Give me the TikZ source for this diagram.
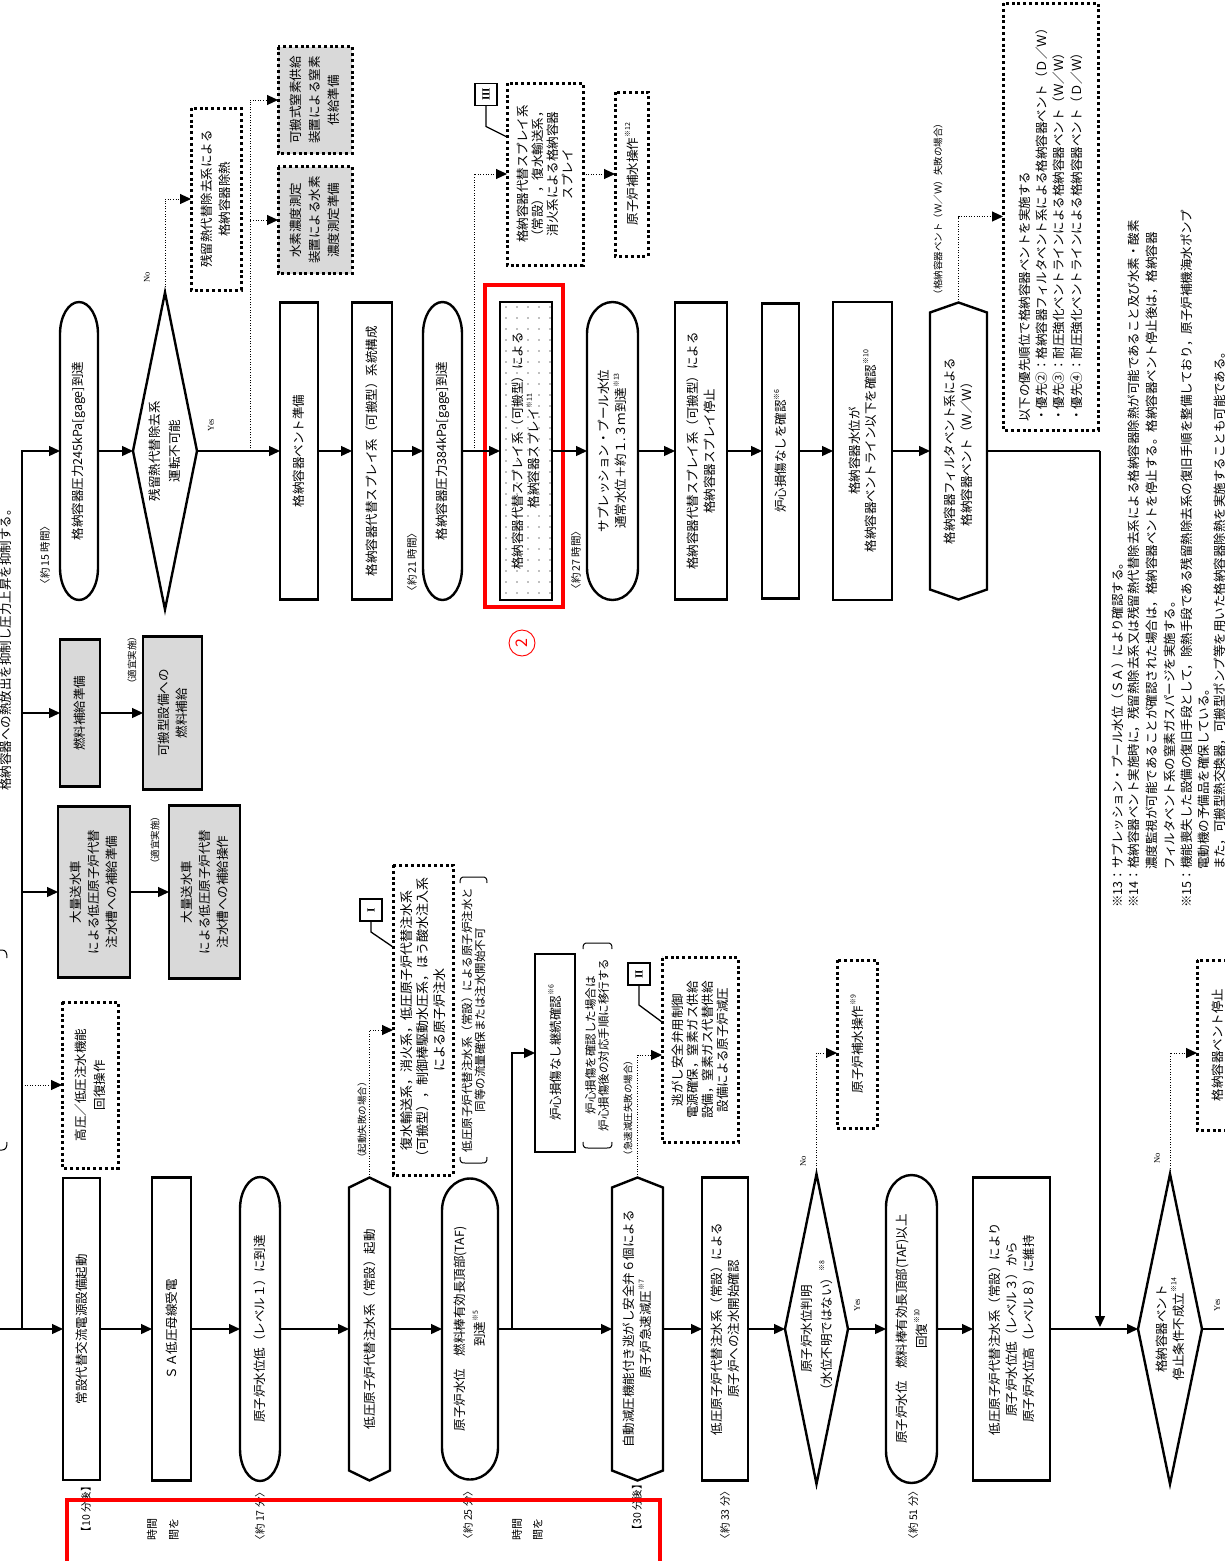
\documentclass[tikz,border=0pt]{standalone}
\usepackage{fontspec}
\setmainfont{Noto Sans CJK JP}
\newfontfamily\serifA{Liberation Serif}
\usetikzlibrary{arrows.meta,patterns.meta}
\definecolor{boxgray}{RGB}{217,217,217}
\newcommand\fsz[2]{\fontsize{#1pt}{#2pt}\selectfont}
\newcommand\fn[1]{\raisebox{0.55em}{\fsz{7}{7}#1}}
\tikzset{
 txt/.style={rotate=90, inner sep=0pt, outer sep=0pt, align=center, font=\fsz{12.5}{17}},
 sbox/.style={txt, draw, line width=2.4pt},
 gbox/.style={sbox, fill=boxgray},
 dbox/.style={txt, draw, line width=3pt, dash pattern=on 3pt off 2.8pt},
 gdbox/.style={dbox, fill=boxgray},
 shp/.style={line width=2.4pt, line join=miter},
 ln/.style={line width=1.3pt},
 arr/.style={ln, -{Triangle[length=11pt,width=10pt]}},
 darr/.style={line width=1pt, dash pattern=on 1pt off 1.6pt, -{Triangle[length=11pt,width=10pt]}},
 lead/.style={line width=1.3pt},
 rlab/.style={txt, draw, line width=1.4pt, minimum width=22pt, minimum height=22pt, font=\serifA\bfseries\fsz{11}{11}},
 smalltxt/.style={txt, font=\fsz{9.5}{11}},
 tlab/.style={txt, font=\fsz{10.5}{12}},
 yn/.style={txt, font=\serifA\fsz{8.5}{9}},
 footline/.style={rotate=90, inner sep=0pt, anchor=west, font=\fsz{12.5}{15}},
 brk/.style={line width=1pt},
}
\newcommand\stadnode[6]{%
 \node[txt, minimum width=#5pt, minimum height=#4pt] (#1) at (#2,#3) {#6};
 \pgfmathsetmacro\Xl{#2-#4/2}\pgfmathsetmacro\Xr{#2+#4/2}%
 \pgfmathsetmacro\Xlk{#2-0.552*#4/2}\pgfmathsetmacro\Xrk{#2+0.552*#4/2}%
 \pgfmathsetmacro\Yt{#3-#5/2}\pgfmathsetmacro\Yb{#3+#5/2}%
 \pgfmathsetmacro\Yti{\Yt+32}\pgfmathsetmacro\Ybi{\Yb-32}%
 \pgfmathsetmacro\Ytk{\Yt+14.3}\pgfmathsetmacro\Ybk{\Yb-14.3}%
 \draw[shp] (\Xl,\Yti) -- (\Xl,\Ybi) .. controls (\Xl,\Ybk) and (\Xlk,\Yb) .. (#2,\Yb) .. controls (\Xrk,\Yb) and (\Xr,\Ybk) .. (\Xr,\Ybi) -- (\Xr,\Yti) .. controls (\Xr,\Ytk) and (\Xrk,\Yt) .. (#2,\Yt) .. controls (\Xlk,\Yt) and (\Xl,\Ytk) .. cycle;}
\newcommand\hexnode[6]{%
 \node[txt, minimum width=#5pt, minimum height=#4pt] (#1) at (#2,#3) {#6};
 \pgfmathsetmacro\Xl{#2-#4/2}\pgfmathsetmacro\Xr{#2+#4/2}%
 \pgfmathsetmacro\Yt{#3-#5/2}\pgfmathsetmacro\Yb{#3+#5/2}%
 \pgfmathsetmacro\Ytp{\Yt+10}\pgfmathsetmacro\Ybp{\Yb-10}%
 \draw[shp] (#2,\Yt) -- (\Xr,\Ytp) -- (\Xr,\Ybp) -- (#2,\Yb) -- (\Xl,\Ybp) -- (\Xl,\Ytp) -- cycle;}
\newcommand\dianode[6]{%
 \node[txt, minimum width=#5pt, minimum height=#4pt] (#1) at (#2,#3) {#6};
 \pgfmathsetmacro\Xl{#2-#4/2}\pgfmathsetmacro\Xr{#2+#4/2}%
 \pgfmathsetmacro\Yt{#3-#5/2}\pgfmathsetmacro\Yb{#3+#5/2}%
 \draw[shp] (#2,\Yt) -- (\Xr,#3) -- (#2,\Yb) -- (\Xl,#3) -- cycle;}
\begin{document}
\begin{tikzpicture}[x=1pt,y=-1pt]
\fill[white] (0,0) rectangle (1224,1561);
\useasboundingbox (0,0) rectangle (1224,1561);

% ---------- top-left caption ----------
\node[txt] (cap) at (6,647) {格納容器への熱放出を抑制し圧力上昇を抑制する。};
\draw[brk] (0,950) -- (2,950) .. controls (6,950) and (7,953) .. (7,958);
\draw[brk] (0,1150) -- (2,1150) .. controls (6,1150) and (7,1147) .. (7,1142);

% ---------- upper row ----------
\stadnode{s245}{79}{451}{38}{298}{格納容器圧力245kPa[gage]到達}
\dianode{d1}{165}{451}{64}{317}{残留熱代替除去系\\[3pt]運転不可能}
\node[dbox, minimum width=182pt, minimum height=50pt, font=\fsz{12.5}{18}] (rhr) at (216,199) {残留熱代替除去系による\\格納容器除熱};
\node[gdbox, minimum width=107pt, minimum height=74pt, font=\fsz{12.5}{19}] (h2) at (315,220) {水素濃度測定\\装置による水素\\濃度測定準備};
\node[gdbox, minimum width=107pt, minimum height=74pt, font=\fsz{12.5}{19}] (n2) at (315,100) {可搬式窒素供給\\装置による窒素\\供給準備};
\node[sbox, minimum width=297pt, minimum height=38pt] (vprep) at (299,451) {格納容器ベント準備};
\node[sbox, minimum width=297pt, minimum height=40pt] (spcfg) at (372,451) {格納容器代替スプレイ系（可搬型）系統構成};
\stadnode{s384}{442.5}{451}{39}{298}{格納容器圧力384kPa[gage]到達}
\node[sbox, pattern={Dots[distance=11pt,radius=0.8pt]}, pattern color=gray, minimum width=298pt, minimum height=52pt, font=\fsz{12.5}{16}] (spray) at (526,451) {格納容器代替スプレイ系（可搬型）による\\格納容器スプレイ\fn{※11}};
\node[draw=red, line width=4pt, inner sep=0pt, minimum width=78pt, minimum height=322pt] (hl) at (524,446) {};
\node[circle, draw=red, line width=0.9pt, text=red, minimum size=26pt, inner sep=0pt, rotate=90, font=\fsz{16}{16}] (c2) at (522,643) {2};
\node[dbox, minimum width=182pt, minimum height=76pt, font=\fsz{12.5}{15}] (cspray) at (545,174) {格納容器代替スプレイ系\\（常設），復水輸送系，\\消火系による格納容器\\スプレイ};
\node[rlab] (r3) at (486,94.5) {III};
\coordinate (r3t) at (507,137);
\draw[lead] (r3.west) -- ++(0,21) -- (r3t);
\node[dbox, minimum width=164pt, minimum height=33pt] (rpc12) at (631.5,174) {原子炉補水操作\fn{※12}};
\stadnode{ssup}{612.5}{451}{51}{298}{サプレッション・プール水位\\通常水位＋約１.３ｍ到達\fn{※13}}
\node[sbox, minimum width=297pt, minimum height=52pt] (spstop) at (701,451) {格納容器代替スプレイ系（可搬型）による\\格納容器スプレイ停止};
\node[sbox, minimum width=295pt, minimum height=37pt] (cdc) at (780.5,451) {炉心損傷なしを確認\fn{※6}};
\node[sbox, minimum width=298pt, minimum height=59pt, font=\fsz{12.5}{16}] (wlv) at (862.5,451) {格納容器水位が\\格納容器ベントライン以下を確認\fn{※10}};
\hexnode{fvent}{958.5}{451}{57}{297}{格納容器フィルタベント系による\\格納容器ベント（Ｗ／Ｗ）}
\node[dbox, align=left, text width=410pt, minimum width=427pt, minimum height=95pt, font=\fsz{12.5}{17.3}] (pri) at (1050.5,216.5) {以下の優先順位で格納容器ベントを実施する\\・優先②：格納容器フィルタベント系による格納容器ベント（Ｄ／Ｗ）\\・優先③：耐圧強化ベントラインによる格納容器ベント（Ｗ／Ｗ）\\・優先④：耐圧強化ベントラインによる格納容器ベント（Ｄ／Ｗ）};

% labels upper
\node[tlab] (t15) at (45,555) {〈約 15 時間〉};
\node[tlab] (t21) at (412,562) {〈約 21 時間〉};
\node[tlab] (t27) at (576,560) {〈約 27 時間〉};
\node[yn] (no1) at (147,277) {No};
\node[yn] (yes1) at (211,425) {Yes};
\node[smalltxt] (wwf) at (938,209) {（格納容器ベント（Ｗ／Ｗ）失敗の場合）};

% gray boxes
\node[gbox, minimum width=147pt, minimum height=40pt] (fuelp) at (80,713) {燃料補給準備};
\node[gbox, minimum width=153pt, minimum height=59pt, font=\fsz{12.5}{18}] (fuels) at (172.5,713) {可搬型設備への\\燃料補給};
\node[smalltxt] (tk1) at (132,660) {（適宜実施）};
\node[gbox, minimum width=171pt, minimum height=72pt, font=\fsz{12.5}{18}] (watp) at (94,892) {大量送水車\\による低圧原子炉代替\\注水槽への補給準備};
\node[gbox, minimum width=173pt, minimum height=71pt, font=\fsz{12.5}{18}] (wats) at (204.5,892) {大量送水車\\による低圧原子炉代替\\注水槽への補給操作};
\node[smalltxt] (tk2) at (155,840) {（適宜実施）};
\node[dbox, minimum width=166pt, minimum height=56pt, font=\fsz{12.5}{19}] (hp) at (90,1085) {高圧／低圧注水機能\\回復操作};

% ---------- lower row ----------
\node[sbox, minimum width=302pt, minimum height=37pt] (b1) at (81.5,1329) {常設代替交流電源設備起動};
\node[sbox, minimum width=303pt, minimum height=39pt] (b2) at (171.5,1329) {ＳＡ低圧母線受電};
\stadnode{b3}{260}{1329}{40}{304}{原子炉水位低（レベル１）に到達}
\hexnode{b4}{369.5}{1329}{41}{303}{低圧原子炉代替注水系（常設）起動}
\node[dbox, minimum width=310pt, minimum height=60pt, font=\fsz{13}{16.5}] (lowinj) at (423,1020) {復水輸送系，消火系，低圧原子炉代替注水系\\（可搬型），制御棒駆動水圧系，ほう酸水注入系\\による原子炉注水};
\node[rlab] (r1) at (371,910) {I};
\coordinate (r1t) at (393,947);
\draw[lead] (r1.west) -- ++(0,11) -- (r1t);
\node[txt, font=\fsz{11.5}{13}] (bk1) at (473.5,1020) {低圧原子炉代替注水系（常設）による原子炉注水と\\同等の流量確保または注水開始不可};
\draw[brk] (460,883) .. controls (460,878) and (461,877) .. (465,877) -- (482,877) .. controls (486,877) and (487,878) .. (487,883);
\draw[brk] (460,1157) .. controls (460,1162) and (461,1163) .. (465,1163) -- (482,1163) .. controls (486,1163) and (487,1162) .. (487,1157);
\node[smalltxt] (kf) at (362,1120) {（起動失敗の場合）};
\stadnode{b5}{470}{1329}{56}{301}{原子炉水位　燃料棒有効長頂部(TAF)\\[3pt]到達\fn{※5}}
\node[sbox, minimum width=198pt, minimum height=40pt] (cdc2) at (555,1053) {炉心損傷なし継続確認\fn{※6}};
\node[txt, font=\fsz{11.5}{13}] (bk2) at (597,1045) {炉心損傷を確認した場合は\\炉心損傷後の対応手順に移行する};
\draw[brk] (583,949) .. controls (583,944) and (584,943) .. (588,943) -- (607,943) .. controls (611,943) and (612,944) .. (612,949);
\draw[brk] (583,1142) .. controls (583,1147) and (584,1148) .. (588,1148) -- (607,1148) .. controls (611,1148) and (612,1147) .. (612,1142);
\hexnode{b6}{637.5}{1329}{51}{303}{自動減圧機能付き逃がし安全弁６個による\\原子炉急速減圧\fn{※7}}
\node[rlab] (r2) at (639,974) {II};
\coordinate (r2t) at (662,1022);
\draw[lead] (r2.west) -- ++(0,20) -- (r2t);
\node[dbox, minimum width=185pt, minimum height=76pt, font=\fsz{12.5}{15}] (srv) at (700,1050) {逃がし安全弁用制御\\電源確保，窒素ガス供給\\設備，窒素ガス代替供給\\設備による原子炉減圧};
\node[smalltxt] (qf) at (628,1108) {（急速減圧失敗の場合）};
\node[sbox, minimum width=303pt, minimum height=46pt] (b7) at (725,1329) {低圧原子炉代替注水系（常設）による\\原子炉への注水開始確認};
\dianode{b8}{816.5}{1329}{63}{310}{原子炉水位判明\\[3pt]（水位不明ではない）\fn{※8}}
\node[dbox, minimum width=168pt, minimum height=40pt] (rpc9) at (857,1044) {原子炉補水操作\fn{※9}};
\stadnode{b9}{911.5}{1329}{51}{308}{原子炉水位　燃料棒有効長頂部(TAF)以上\\[3pt]回復\fn{※10}}
\node[sbox, minimum width=303pt, minimum height=77pt] (b10) at (1011.5,1329) {低圧原子炉代替注水系（常設）により\\原子炉水位低（レベル３）から\\原子炉水位高（レベル８）に維持};
\dianode{b11}{1170}{1329}{64}{310}{格納容器ベント\\停止条件不成立\fn{※14}}
\node[dbox, minimum width=170pt, minimum height=42pt] (vstop) at (1218,1045) {格納容器ベント停止};

% labels lower
\node[tlab] (m10) at (86,1509) {【10 分後】};
\node[tlab] (m17) at (260,1516) {〈約 17 分〉};
\node[tlab] (m25) at (468,1515) {〈約 25 分〉};
\node[tlab] (m30) at (637,1507) {【30 分後】};
\node[tlab] (m33) at (725,1515) {〈約 33 分〉};
\node[tlab] (m51) at (913,1515) {〈約 51 分〉};
\node[yn] (no2) at (803,1161) {No};
\node[yn] (yes2) at (857,1305) {Yes};
\node[yn] (no3) at (1157,1158) {No};
\node[yn] (yes3) at (1217,1305) {Yes};

% red frame at bottom and its text fragments
\node[txt, anchor=east, font=\fsz{11}{11}] (fr1) at (152,1518) {時間};
\node[txt, anchor=east, font=\fsz{11}{11}] (fr2) at (174,1518) {間を};
\node[txt, anchor=east, font=\fsz{11}{11}] (fr3) at (517,1518) {時間};
\node[txt, anchor=east, font=\fsz{11}{11}] (fr4) at (538,1518) {間を};
\draw[red, line width=4pt] (67,1580) -- (67,1500) -- (660,1500) -- (660,1580);

% footnotes
\node[footline] (f1) at (1117.5,908) {※13：サプレッション・プール水位（ＳＡ）により確認する。};
\node[footline] (f2) at (1134,908) {※14：格納容器ベント実施時に，残留熱除去系又は残留熱代替除去系による格納容器除熱が可能であること及び水素・酸素};
\node[footline] (f3) at (1152,870) {濃度監視が可能であることが確認された場合は，格納容器ベントを停止する。格納容器ベント停止後は，格納容器};
\node[footline] (f4) at (1170,870) {フィルタベント系の窒素ガスパージを実施する。};
\node[footline] (f5) at (1187,908) {※15：機能喪失した設備の復旧手段として，除熱手段である残留熱除去系の復旧手順を整備しており，原子炉補機海水ポンプ};
\node[footline] (f6) at (1204,870) {電動機の予備品を確保している。};
\node[footline] (f7) at (1220,870) {また，可搬型熱交換器，可搬型ポンプ等を用いた格納容器除熱を実施することも可能である。};

% ---------- connectors ----------
\coordinate (L0) at (0,1329);
\coordinate (V1) at (22,1329);
\coordinate (V0) at (22,451);
\coordinate (Vf) at (22,713);
\coordinate (Vw) at (22,892);
\coordinate (Vh) at (22,1085);
\draw[ln] (L0) -- (V1);
\draw[arr] (V1) -- (b1.north);
\draw[arr] (V1) -- (V0) -- (s245.north);
\draw[arr] (Vf) -- (fuelp.north);
\draw[arr] (fuelp.south) -- (fuels.north);
\draw[arr] (Vw) -- (watp.north);
\draw[arr] (watp.south) -- (wats.north);
\draw[darr] (Vh) -- (hp.north);

\draw[arr] (s245.south) -- (d1.north);
\draw[arr] (d1.south) -- (vprep.north);
\draw[darr] (d1.east) |- (rhr.north);
\coordinate (Jd) at (250,451);
\draw[darr] (Jd) |- (n2.north);
\draw[darr] (Jd) |- (h2.north);
\draw[arr] (vprep.south) -- (spcfg.north);
\draw[arr] (spcfg.south) -- (s384.north);
\draw[arr] (s384.south) -- (spray.north);
\coordinate (Jc) at (474,451);
\draw[darr] (Jc) |- (cspray.north);
\draw[darr] (cspray.south) -- (rpc12.north);
\draw[arr] (spray.south) -- (ssup.north);
\draw[arr] (ssup.south) -- (spstop.north);
\draw[arr] (spstop.south) -- (cdc.north);
\draw[arr] (cdc.south) -- (wlv.north);
\draw[arr] (wlv.south) -- (fvent.north);
\draw[darr] (fvent.east) |- (pri.north);
\coordinate (Vr) at (1100,451);
\coordinate (Vb) at (1100,1327);
\draw[ln] (fvent.south) -- (Vr);
\draw[arr] (Vr) -- (Vb);

\draw[arr] (b1.south) -- (b2.north);
\draw[arr] (b2.south) -- (b3.north);
\draw[arr] (b3.south) -- (b4.north);
\draw[darr] (b4.east) |- ([yshift=-10pt]lowinj.north);
\draw[arr] (b4.south) -- (b5.north);
\coordinate (Jb) at (512,1329);
\draw[ln] (b5.south) -- (Jb);
\draw[arr] (Jb) -- (b6.north);
\draw[arr] (Jb) |- (cdc2.north);
\draw[darr] (b6.east) |- ([yshift=-5pt]srv.north);
\draw[arr] (b6.south) -- (b7.north);
\draw[arr] (b7.south) -- (b8.north);
\draw[darr] (b8.east) |- ([yshift=-9pt]rpc9.north);
\draw[arr] (b8.south) -- (b9.north);
\draw[arr] (b9.south) -- (b10.north);
\draw[arr] (b10.south) -- (b11.north);
\draw[darr] (b11.east) |- ([yshift=-8pt]vstop.north);
\coordinate (Rout) at (1224,1329);
\draw[ln] (b11.south) -- (Rout);
\end{tikzpicture}
\end{document}
